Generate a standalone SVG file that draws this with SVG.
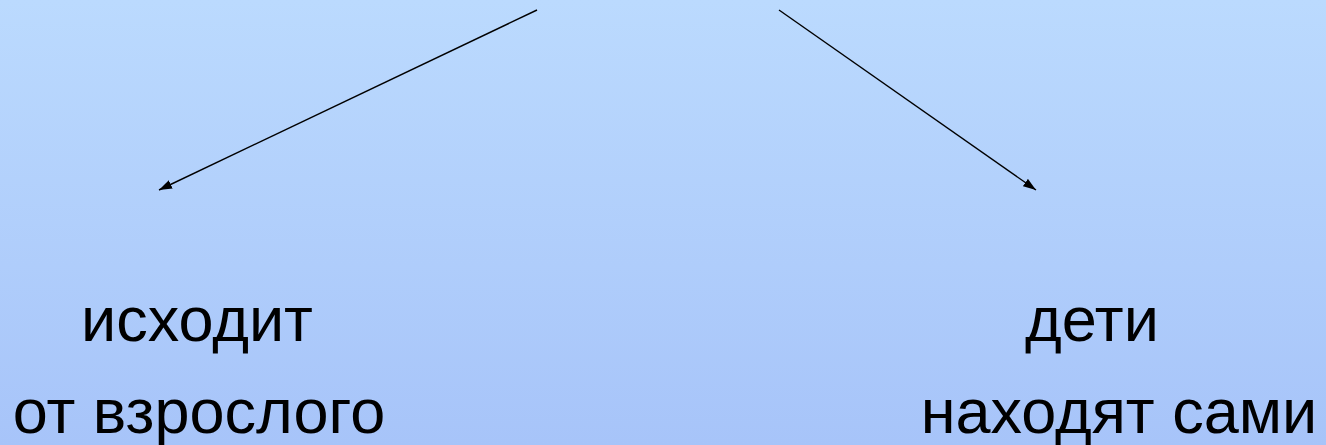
<svg xmlns="http://www.w3.org/2000/svg" width="1326" height="445" viewBox="0 0 1326 445">
<defs>
<linearGradient id="bg" x1="0" y1="0" x2="0" y2="1">
<stop offset="0" stop-color="#BBDAFE"/>
<stop offset="1" stop-color="#A7C4F9"/>
</linearGradient>
<marker id="ah" viewBox="0 0 13 9" refX="13" refY="4.5" markerWidth="13" markerHeight="9" markerUnits="userSpaceOnUse" orient="auto">
<path d="M0,0 L13,4.5 L0,9 z" fill="#000"/>
</marker>
<style>
.lbl{font-family:"Liberation Sans",Arial,sans-serif;font-size:63px;fill:#000;text-anchor:middle}
.conn{stroke:#000;stroke-width:1.4;fill:none;marker-end:url(#ah)}
</style>
</defs>
<rect width="1326" height="445" fill="url(#bg)"/>
<g id="connectors">
<line class="conn" x1="537" y1="10" x2="159" y2="190"/>
<line class="conn" x1="779" y1="10" x2="1036" y2="190"/>
</g>
<g id="node-left">
<text class="lbl" x="197" y="341">исходит</text>
<text class="lbl" x="199" y="433">от взрослого</text>
</g>
<g id="node-right">
<text class="lbl" x="1092" y="341">дети</text>
<text class="lbl" x="1119" y="433">находят сами</text>
</g>
</svg>
